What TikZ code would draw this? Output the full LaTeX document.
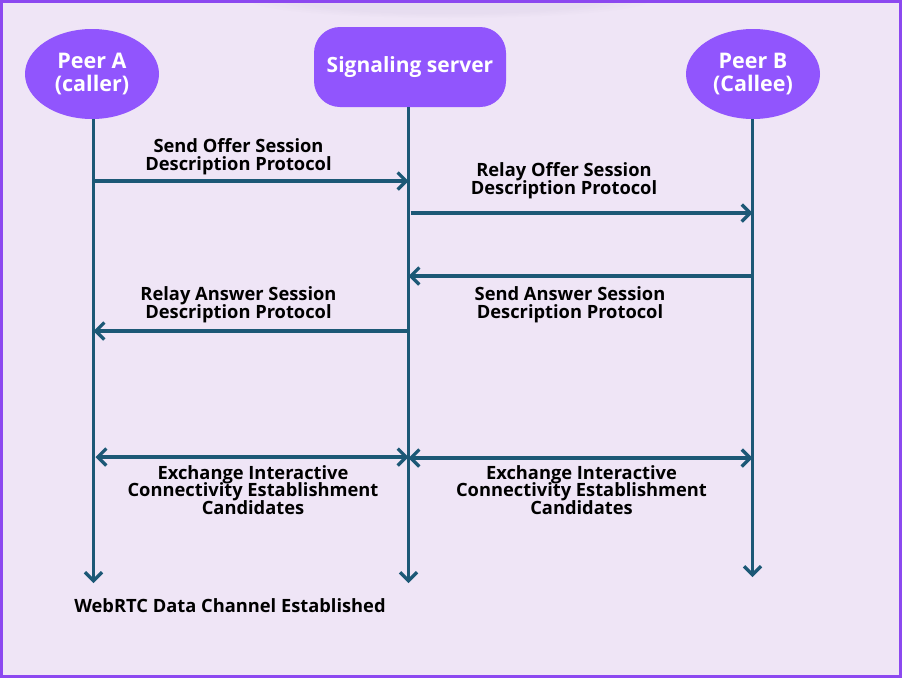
\documentclass[tikz,border=0pt]{standalone}
\usepackage{fontspec}
\setmainfont{Open Sans}
\usetikzlibrary{arrows.meta,shapes.geometric}
\definecolor{bgc}{RGB}{239,229,246}
\definecolor{shadc}{RGB}{222,212,236}
\definecolor{framec}{RGB}{140,72,240}
\definecolor{nodec}{RGB}{145,85,253}
\definecolor{linec}{RGB}{28,88,118}
\newcommand\tightlines{\lineskiplimit=-50pt\relax\lineskip=0pt\relax}
\tikzset{
  barb/.tip={Straight Barb[length=8.5pt,width=17pt,line width=3.2pt]},
  peer/.style={ellipse, fill=nodec, text=white, minimum width=134pt, minimum height=90pt, inner sep=0pt, align=center, font=\fontsize{21.5}{23}\selectfont\bfseries},
  server/.style={rectangle, rounded corners=26pt, fill=nodec, text=white, minimum width=192pt, minimum height=80pt, inner sep=0pt, align=center, font=\fontsize{21}{23}\selectfont\bfseries},
  life/.style={draw=linec, line width=3.2pt, -barb},
  msg/.style={draw=linec, line width=3.2pt, -barb},
  dmsg/.style={draw=linec, line width=3.2pt, barb-barb},
  lbl/.style={align=center, inner sep=0pt, text=black, font=\fontsize{18.3}{17.7}\selectfont\bfseries\tightlines}
}
\begin{document}
\begin{tikzpicture}[x=1pt,y=-1pt]
\useasboundingbox (0,0) rectangle (902,678);
\fill[bgc] (0,0) rectangle (902,678);
% soft shadow at the top
\foreach \r/\o in {200/0.10,185/0.12,170/0.15,155/0.18}{
  \fill[shadc, opacity=\o] (450,0) ellipse ({\r pt} and {\r*0.09 pt});
}
\draw[framec, line width=2.5pt] (1.5,1.5) rectangle (900.5,676.5);

\node[peer] (A) at (92,74) {Peer A\\(caller)};
\node[server] (S) at (410,67) {Signaling server};
\node[peer] (B) at (753,74) {Peer B\\(Callee)};

\coordinate (Aend) at (93.5,583);
\coordinate (Send) at (408.5,583);
\coordinate (Bend) at (752.5,577);
\draw[life] (A.south -| Aend) -- (Aend);
\draw[life] (S.south -| Send) -- (Send);
\draw[life] (B.south -| Bend) -- (Bend);

% message end points
\coordinate (m1a) at (93.5,181);  \coordinate (m1b) at (408.5,181);
\coordinate (m2a) at (410.5,213); \coordinate (m2b) at (752.5,213);
\coordinate (m3a) at (752.5,276); \coordinate (m3b) at (408.5,276);
\coordinate (m4a) at (408.5,331); \coordinate (m4b) at (93.5,331);
\coordinate (m5a) at (95.5,457);  \coordinate (m5b) at (408.5,457);
\coordinate (m6a) at (408.5,458); \coordinate (m6b) at (752.5,458);

\draw[msg] (m1a) -- (m1b);
\draw[msg] (m2a) -- (m2b);
\draw[msg] (m3a) -- (m3b);
\draw[msg] (m4a) -- (m4b);
\draw[dmsg] (m5a) -- (m5b);
\draw[dmsg] (m6a) -- (m6b);

\node[lbl] (l1) at (238.5,157) {Send Offer Session\\Description Protocol};
\node[lbl] (l2) at (564,181) {Relay Offer Session\\Description Protocol};
\node[lbl] (l3) at (570,305) {Send Answer Session\\Description Protocol};
\node[lbl] (l4) at (238.5,305) {Relay Answer Session\\Description Protocol};
\node[lbl] (l5) at (253,490) {Exchange Interactive\\Connectivity Establishment\\Candidates};
\node[lbl] (l6) at (581.5,490) {Exchange Interactive\\Connectivity Establishment\\Candidates};
\node[lbl] (l7) at (230,606) {WebRTC Data Channel Established};
\end{tikzpicture}
\end{document}
